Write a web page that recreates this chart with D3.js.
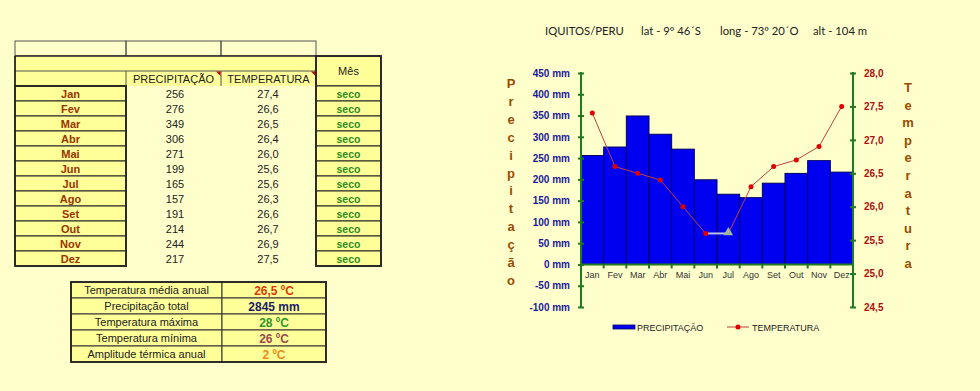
<!DOCTYPE html>
<html><head><meta charset="utf-8">
<script src="https://cdn.jsdelivr.net/npm/d3@7"></script>
<style>
html,body{margin:0;padding:0;background:#FFFFCC;}
svg{display:block;font-family:"Liberation Sans",Arial,sans-serif;}
</style></head>
<body><svg id="c" width="980" height="391"></svg>
<script>
const months = ["Jan","Fev","Mar","Abr","Mai","Jun","Jul","Ago","Set","Out","Nov","Dez"];
const precip = [256,276,349,306,271,199,165,157,191,214,244,217];
const temp = [27.4,26.6,26.5,26.4,26.0,25.6,25.6,26.3,26.6,26.7,26.9,27.5];
const status = ["seco","seco","seco","seco","seco","seco","seco","seco","seco","seco","seco","seco"];
const precipTicks = [-100,-50,0,50,100,150,200,250,300,350,400,450];
const tempTicks = [24.5,25.0,25.5,26.0,26.5,27.0,27.5,28.0];
const summaryLabels = ["Temperatura média anual","Precipitação total","Temperatura máxima","Temperatura mínima","Amplitude térmica anual"];
const summaryValues = ["26,5 ºC","2845 mm","28 ºC","26 ºC","2 ºC"];
const summaryColors = ["#E03A0A","#1C1C66","#2E952E","#9A4A50","#E88A1A"];
const titleParts = ["IQUITOS/PERU","lat - 9º 46´S","long - 73º 20´O","alt - 104 m"];

const svg = d3.select("#c");
const BG="#FFFFCC", YEL="#FFFF99", DARK="#222";

// ---------- Left table ----------
const t = svg.append("g");
t.append("rect").attr("x",15).attr("y",41).attr("width",301).attr("height",15).attr("fill",BG);
[[15,126],[126,221],[221,316]].forEach(([a,b])=>{
  t.append("rect").attr("x",a).attr("y",41).attr("width",b-a).attr("height",15).attr("fill","none").attr("stroke","#555").attr("stroke-width",1);
});
t.append("rect").attr("x",15).attr("y",56).attr("width",301).attr("height",30).attr("fill",YEL);
t.append("line").attr("x1",15).attr("x2",316).attr("y1",56).attr("y2",56).attr("stroke",DARK).attr("stroke-width",1.5);
t.append("line").attr("x1",15).attr("x2",316).attr("y1",71).attr("y2",71).attr("stroke","#555").attr("stroke-width",1);
t.append("line").attr("x1",126).attr("x2",126).attr("y1",71).attr("y2",86).attr("stroke","#555");
t.append("line").attr("x1",221).attr("x2",221).attr("y1",71).attr("y2",86).attr("stroke","#555");
t.append("line").attr("x1",15).attr("x2",126).attr("y1",86).attr("y2",86).attr("stroke","#555");
t.append("text").attr("x",173.5).attr("y",83).attr("text-anchor","middle").attr("font-size",11).attr("fill","#222").text("PRECIPITAÇÃO");
t.append("text").attr("x",268.5).attr("y",83).attr("text-anchor","middle").attr("font-size",11).attr("fill","#222").text("TEMPERATURA");
[[221,71],[316,71]].forEach(([x,y])=>{
  t.append("path").attr("d",`M${x-5},${y+0.5}L${x-0.5},${y+0.5}L${x-0.5},${y+5}Z`).attr("fill","#CC0000");
});
t.append("rect").attr("x",316).attr("y",56).attr("width",65).attr("height",30).attr("fill",YEL).attr("stroke",DARK).attr("stroke-width",1.2);
t.append("text").attr("x",348.5).attr("y",75).attr("text-anchor","middle").attr("font-size",11).attr("fill","#222").text("Mês");

const rowY = i => 86 + i*15;
months.forEach((m,i)=>{
  t.append("rect").attr("x",15).attr("y",rowY(i)).attr("width",111).attr("height",15).attr("fill",YEL).attr("stroke",DARK).attr("stroke-width",1);
  t.append("text").attr("x",70.5).attr("y",rowY(i)+11.5).attr("text-anchor","middle").attr("font-size",11).attr("font-weight","bold").attr("fill","#993300").text(m);
  t.append("text").attr("x",175).attr("y",rowY(i)+11.5).attr("text-anchor","middle").attr("font-size",11).attr("fill","#222").text(precip[i]);
  t.append("text").attr("x",268).attr("y",rowY(i)+11.5).attr("text-anchor","middle").attr("font-size",11).attr("fill","#222").text(d3.format(".1f")(temp[i]).replace(".",","));
  t.append("rect").attr("x",316).attr("y",rowY(i)).attr("width",65).attr("height",15).attr("fill",YEL).attr("stroke",DARK).attr("stroke-width",1);
  t.append("text").attr("x",348.5).attr("y",rowY(i)+11.5).attr("text-anchor","middle").attr("font-size",10.5).attr("font-weight","bold").attr("fill","#2E8B1E").text(status[i]);
});
t.append("rect").attr("x",15).attr("y",86).attr("width",111).attr("height",180).attr("fill","none").attr("stroke",DARK).attr("stroke-width",1.8);
t.append("rect").attr("x",316).attr("y",56).attr("width",65).attr("height",210).attr("fill","none").attr("stroke",DARK).attr("stroke-width",1.8);
t.append("line").attr("x1",15).attr("x2",15).attr("y1",56).attr("y2",86).attr("stroke",DARK).attr("stroke-width",1.8);

// ---------- Summary table ----------
const s = svg.append("g");
summaryLabels.forEach((l,i)=>{
  const y=282+i*16;
  s.append("rect").attr("x",71).attr("y",y).attr("width",151).attr("height",16).attr("fill",YEL).attr("stroke","#333").attr("stroke-width",1);
  s.append("rect").attr("x",222).attr("y",y).attr("width",104).attr("height",16).attr("fill",YEL).attr("stroke","#333").attr("stroke-width",1);
  s.append("text").attr("x",146.5).attr("y",y+12).attr("text-anchor","middle").attr("font-size",11).attr("fill","#222").text(l);
  s.append("text").attr("x",274).attr("y",y+12.5).attr("text-anchor","middle").attr("font-size",12).attr("font-weight","bold").attr("fill",summaryColors[i]).text(summaryValues[i]);
});
s.append("rect").attr("x",71).attr("y",282).attr("width",255).attr("height",80).attr("fill","none").attr("stroke",DARK).attr("stroke-width",1.8);

// ---------- Chart ----------
const X0=581, X1=853, YT=73, YB=307;
const x = d3.scaleBand().domain(months).range([X0,X1]).padding(0);
const yP = d3.scaleLinear().domain([-100,450]).range([YB,YT]);
const yT = d3.scaleLinear().domain([24.5,28]).range([YB,YT]);
const AX="#1E7A1E";

const tx=[545,641,720,813];
titleParts.forEach((p,i)=>svg.append("text").attr("x",tx[i]).attr("y",35).attr("font-family","Lato, 'Open Sans', sans-serif").attr("font-size",11.3).attr("fill","#222").text(p));

svg.append("g").selectAll("rect").data(precip).join("rect")
  .attr("x",(d,i)=>x(months[i])).attr("width",x.bandwidth())
  .attr("y",d=>yP(d)).attr("height",d=>yP(0)-yP(d))
  .attr("fill","#0000F0").attr("stroke","#000066").attr("stroke-width",1);

const xa = svg.append("g").attr("transform",`translate(0,${yP(0)})`);
xa.append("line").attr("x1",X0).attr("x2",X1).attr("stroke",AX).attr("stroke-width",2);
xa.selectAll("line.tk").data(months.slice(1)).join("line").attr("class","tk")
  .attr("x1",d=>x(d)).attr("x2",d=>x(d)).attr("y1",0).attr("y2",4).attr("stroke",AX).attr("stroke-width",2);
xa.selectAll("text").data(months).join("text")
  .attr("x",d=>x(d)+x.bandwidth()/2).attr("y",14).attr("text-anchor","middle")
  .attr("font-size",9).attr("fill","#333").text(d=>d);

const la = svg.append("g").attr("transform",`translate(${X0},0)`)
  .call(d3.axisLeft(yP).tickValues(precipTicks).tickFormat(d=>d+" mm").tickSizeOuter(0).tickSizeInner(3).tickPadding(8));
la.select(".domain").attr("stroke",AX).attr("stroke-width",2).attr("d",`M0,${YT-1}V${YB+1}`);
la.selectAll(".tick line").attr("stroke",AX).attr("stroke-width",2).attr("x1",-3).attr("x2",3);
la.selectAll(".tick text").attr("font-size",10).attr("font-weight","bold").attr("fill","#1A1A99").attr("font-family","'Liberation Sans',Arial,sans-serif");

const ra = svg.append("g").attr("transform",`translate(${X1},0)`)
  .call(d3.axisRight(yT).tickValues(tempTicks).tickFormat(d=>d3.format(".1f")(d).replace(".",",")).tickSizeOuter(0).tickSizeInner(3).tickPadding(8));
ra.select(".domain").attr("stroke",AX).attr("stroke-width",2).attr("d",`M0,${YT-1}V${YB+1}`);
ra.selectAll(".tick line").attr("stroke",AX).attr("stroke-width",2).attr("x1",-3).attr("x2",3);
ra.selectAll(".tick text").attr("font-size",10).attr("font-weight","bold").attr("fill","#AA1111").attr("font-family","'Liberation Sans',Arial,sans-serif");

const cxp = i => x(months[i])+x.bandwidth()/2;
const segs = d3.range(temp.length-1);
svg.append("g").selectAll("line").data(segs).join("line")
  .attr("x1",i=>cxp(i)).attr("y1",i=>yT(temp[i]))
  .attr("x2",i=>cxp(i+1)).attr("y2",i=>yT(temp[i+1]))
  .attr("stroke",i=>i===5?"#B8C4DC":"#C04040").attr("stroke-width",i=>i===5?2:1);
const pts = temp.map((v,i)=>({v,i})).filter(p=>p.i!==6);
svg.append("g").selectAll("circle").data(pts).join("circle")
  .attr("cx",p=>cxp(p.i)).attr("cy",p=>yT(p.v)).attr("r",2.5).attr("fill","#E00000");
svg.append("path")
  .attr("d",d3.symbol().type(d3.symbolTriangle).size(40)())
  .attr("transform",`translate(${cxp(6)},${yT(temp[6])-1})`).attr("fill","#9DB89D");

const pt="Precipitação".split(""), tt="Temperatura".split("");
svg.append("g").selectAll("text").data(pt).join("text")
  .attr("x",511).attr("y",(d,i)=>88+i*17.9).attr("text-anchor","middle")
  .attr("font-size",13).attr("font-weight","bold").attr("fill","#994C00").text(d=>d);
svg.append("g").selectAll("text").data(tt).join("text")
  .attr("x",908).attr("y",(d,i)=>92+i*17.6).attr("text-anchor","middle")
  .attr("font-size",13).attr("font-weight","bold").attr("fill","#994C00").text(d=>d);

const lg = svg.append("g");
lg.append("rect").attr("x",613).attr("y",325).attr("width",22).attr("height",4).attr("fill","#0000F0").attr("stroke","#000066").attr("stroke-width",0.8);
lg.append("text").attr("x",637).attr("y",330.5).attr("font-size",9).attr("fill","#222").text("PRECIPITAÇÃO");
lg.append("line").attr("x1",727).attr("x2",749).attr("y1",327).attr("y2",327).attr("stroke","#C04040").attr("stroke-width",1);
lg.append("circle").attr("cx",738).attr("cy",327).attr("r",2.5).attr("fill","#E00000");
lg.append("text").attr("x",752).attr("y",330.5).attr("font-size",9).attr("fill","#222").text("TEMPERATURA");
</script></body></html>
